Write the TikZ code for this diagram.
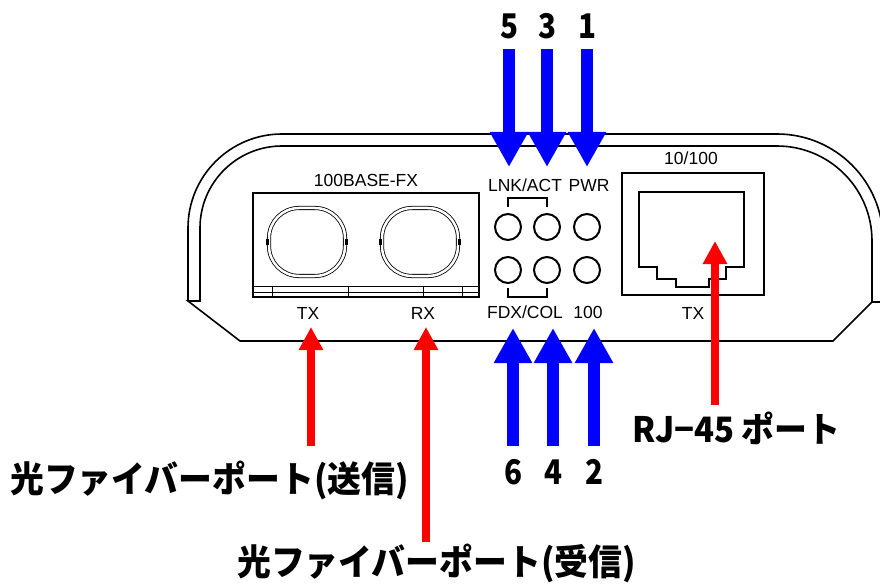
\documentclass[tikz,border=0pt]{standalone}
\usepackage{fontspec}
\setmainfont{Liberation Sans}
\newfontfamily\jpfont[FakeStretch=0.87]{Noto Sans CJK JP}
\newfontfamily\jpwide[FakeStretch=0.94]{Noto Sans CJK JP}
\usetikzlibrary{positioning,arrows.meta}

\begin{document}
\begin{tikzpicture}[x=1pt,y=-1pt]
\tikzstyle{every node}+=[inner sep=0pt]
\tikzstyle{panel}=[font=\fontsize{17.5}{18}\selectfont]
\tikzstyle{caption}=[font=\jpwide\bfseries\fontsize{36}{40}\selectfont]
\tikzstyle{rjcaption}=[font=\jpwide\bfseries\fontsize{35}{38}\selectfont]
\tikzstyle{digit}=[font=\jpfont\bfseries\fontsize{34}{36}\selectfont]
\tikzstyle{led}=[draw, circle, line width=2pt, minimum size=26pt]
\tikzstyle{fiber}=[draw, double, double distance=2.5pt, line width=0.8pt, rounded corners=30pt, minimum width=76pt, minimum height=68pt]
\tikzstyle{bluearrow}=[blue, line width=12pt, -{Triangle[width=36pt,length=35pt]}]
\tikzstyle{redarrow}=[red, line width=8pt, -{Triangle[width=23pt,length=23pt]}]
\useasboundingbox (0,0) rectangle (880,585);
\clip (0,0) rectangle (880,585);
% housing
\draw [line width=1.6pt] (188,301) -- (188,228) arc (180:270:94) -- (777,134) arc (270:360:106) -- (883,302) -- (872,302);
\draw [line width=1.6pt] (188,301) -- (200,301) -- (200,228) arc (180:270:82) -- (777,146) arc (270:360:95) -- (872,302) -- (833,341) -- (240,341) -- cycle;
% fiber module
\node [draw, line width=2pt, minimum width=226pt, minimum height=104pt] (fxbox) at (365.5,245) {};
\draw [line width=0.8pt] (fxbox.west |- 0,286) -- (fxbox.east |- 0,286);
\draw [line width=0.8pt] (fxbox.west |- 0,292) -- (fxbox.east |- 0,292);
\foreach \x in {272,348,423,462}
  \draw [line width=0.8pt] (\x,286) -- (\x,297);
\node [fiber] (txport) at (307,242) {};
\node [fiber] (rxport) at (420,242) {};
\fill (txport.west) ++(-3,-3) rectangle ++(3,6);
\fill (txport.east) ++(0,-3) rectangle ++(3,6);
\fill (rxport.west) ++(-3,-3) rectangle ++(3,6);
\fill (rxport.east) ++(0,-3) rectangle ++(3,6);
\node [panel] (fxlbl) at (366,180) {100BASE-FX};
\node [panel] (txlbl) at (308,313) {TX};
\node [panel] (rxlbl) at (423,313) {RX};
% leds
\node [led] (lnk) at (508,227) {};
\node [led] (act) at (547,227) {};
\node [led] (pwr) at (587,227) {};
\node [led] (fdx) at (508,270) {};
\node [led] (col) at (547,270) {};
\node [led] (spd) at (587,270) {};
\draw [line width=1.2pt] (lnk |- 0,207) -- (lnk |- 0,198) -- (act |- 0,198) -- (act |- 0,207);
\draw [line width=1.2pt] (fdx |- 0,288) -- (fdx |- 0,297) -- (col |- 0,297) -- (col |- 0,288);
\node [panel] (lnkact) at (525,185) {LNK/ACT};
\node [panel] (pwrlbl) at (589,185) {PWR};
\node [panel] (fdxcol) at (525,312) {FDX/COL};
\node [panel] (spdlbl) at (588,312) {100};
% rj-45 port
\node [draw, line width=2.5pt, minimum width=142pt, minimum height=122pt] (rj) at (693,234) {};
\draw [line width=1.2pt] (639,192) -- (744,192) -- (744,267) -- (726,267) -- (726,279) -- (709,279) -- (709,287) -- (676,287) -- (676,279) -- (657,279) -- (657,267) -- (639,267) -- cycle;
\node [panel] (rjlbl) at (691,158) {10/100};
\node [panel] (rjtx) at (693,313) {TX};
% numbers and arrows
\node [digit] (n5) at (509,26) {5};
\node [digit] (n3) at (547,26) {3};
\node [digit] (n1) at (587,26) {1};
\node [digit] (n6) at (513,472) {6};
\node [digit] (n4) at (553,472) {4};
\node [digit] (n2) at (594,472) {2};
\coordinate (t5) at (509,167);
\coordinate (t3) at (547,167);
\coordinate (t1) at (587,167);
\coordinate (b6) at (513,328);
\coordinate (b4) at (553,328);
\coordinate (b2) at (594,328);
\draw [bluearrow, shorten <=10pt] (n5) -- (t5);
\draw [bluearrow, shorten <=10pt] (n3) -- (t3);
\draw [bluearrow, shorten <=10pt] (n1) -- (t1);
\draw [bluearrow, shorten <=13pt] (n6) -- (b6);
\draw [bluearrow, shorten <=13pt] (n4) -- (b4);
\draw [bluearrow, shorten <=13pt] (n2) -- (b2);
% captions
\node [caption, anchor=west] (txfib) at (10,480) {光ファイバーポート(送信)};
\node [caption, anchor=west] (rxfib) at (237,563) {光ファイバーポート(受信)};
\node [rjcaption, anchor=west] (rjcap) at (632,428) {RJ−45 ポート};
\coordinate (rtx) at (311,327);
\coordinate (rrx) at (426,327);
\coordinate (rrj) at (715,241);
\draw [redarrow, shorten <=14pt] (txfib.north -| rtx) -- (rtx);
\draw [redarrow, shorten <=1pt] (rxfib.north -| rrx) -- (rrx);
\draw [redarrow, shorten <=6pt] (rjcap.north -| rrj) -- (rrj);
\end{tikzpicture}
\end{document}
